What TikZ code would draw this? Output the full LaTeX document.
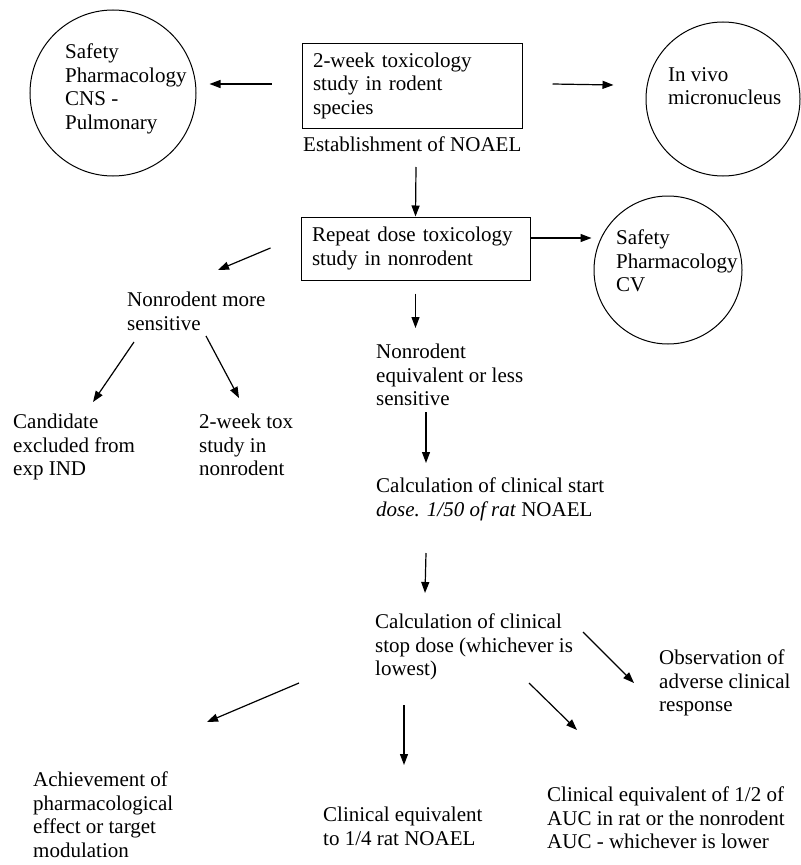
\documentclass[tikz,border=0pt]{standalone}
\usepackage{fontspec}
\setmainfont{Liberation Serif}
\usetikzlibrary{arrows.meta}

\begin{document}
\begin{tikzpicture}[x=1bp,y=-1bp,
  every node/.style={font=\fontsize{21bp}{23.5bp}\selectfont},
  txt/.style={anchor=north west,inner sep=0pt,align=left},
  ring/.style={draw,circle,line width=1bp},
  boxed/.style={draw,rectangle,line width=1bp,inner xsep=11bp,inner ysep=4bp,align=left},
  arr/.style={-{Triangle[length=11bp,width=8bp]},line width=1.2bp}]
\useasboundingbox (0,0) rectangle (801,865);

\node[ring,minimum size=166bp] (cns) at (113,93) {};
\node[txt] (cnstxt) at (65,44) {Safety\\Pharmacology\\CNS -\\Pulmonary};
\node[boxed,text width=198bp,minimum width=220bp,minimum height=85bp] (rodent) at (412,85.5) {2-week toxicology\\study in rodent\\species};
\node[txt] (noael) at (303,137) {Establishment of NOAEL};
\node[ring,minimum size=154bp] (vivo) at (723,99) {};
\node[txt] (vivotxt) at (668,67) {In vivo\\micronucleus};

\node[boxed,text width=207bp,minimum height=63bp] (repeat) at (415.5,248.5) {Repeat dose toxicology\\study in nonrodent};
\node[ring,minimum size=148bp] (cv) at (668,270) {};
\node[txt] (cvtxt) at (616,230) {Safety\\Pharmacology\\CV};

\node[txt] (more) at (127,292) {Nonrodent more\\sensitive};
\node[txt] (cand) at (13,414) {Candidate\\excluded from\\exp IND};
\node[txt] (twotox) at (199,414) {2-week tox\\study in\\nonrodent};
\node[txt] (equiv) at (376,344) {Nonrodent\\equivalent or less\\sensitive};
\node[txt] (start) at (376,478) {Calculation of clinical start\\\textit{dose. 1/50 of rat} NOAEL};
\node[txt] (stop) at (375,614) {Calculation of clinical\\stop dose (whichever is\\lowest)};
\node[txt] (obs) at (659,650) {Observation of\\adverse clinical\\response};
\node[txt] (achieve) at (33,772) {Achievement of\\pharmacological\\effect or target\\modulation};
\node[txt] (quarter) at (323,807) {Clinical equivalent\\to 1/4 rat NOAEL};
\node[txt] (half) at (547,787) {Clinical equivalent of 1/2 of\\AUC in rat or the nonrodent\\AUC - whichever is lower};

\draw[arr] ([shift={(-30,-1.5)}]rodent.west) -- ([shift={(13,-9)}]cns.east);
\draw[arr] ([shift={(30,-1.5)}]rodent.east) -- ([shift={(-32,-14)}]vivo.west);
\draw[arr] ([shift={(113,30)}]noael.north west) -- (repeat.north);
\draw[arr] ([shift={(0,-10.5)}]repeat.east) -- ([shift={(-2,-32)}]cv.west);
\draw[arr] ([shift={(-30,-0.5)}]repeat.west) -- ([shift={(91,-22)}]more.north west);
\draw[arr] ([shift={(0,13)}]repeat.south) -- ([shift={(39.5,-16)}]equiv.north west);
\draw[arr] ([shift={(7,50)}]more.north west) -- ([shift={(80,-12)}]cand.north west);
\draw[arr] ([shift={(79,44)}]more.north west) -- ([shift={(40,-16)}]twotox.north west);
\draw[arr] ([shift={(50,68)}]equiv.north west) -- ([shift={(50,-15)}]start.north west);
\draw[arr] ([shift={(50,75)}]start.north west) -- ([shift={(50,-21)}]stop.north west);
\draw[arr] ([shift={(208,18)}]stop.north west) -- ([shift={(-25,33)}]obs.north west);
\draw[arr] ([shift={(-76,69)}]stop.north west) -- ([shift={(174,-50)}]achieve.north west);
\draw[arr] ([shift={(29,91)}]stop.north west) -- ([shift={(81,-42)}]quarter.north west);
\draw[arr] ([shift={(154,69)}]stop.north west) -- ([shift={(30,-57)}]half.north west);
\end{tikzpicture}
\end{document}
